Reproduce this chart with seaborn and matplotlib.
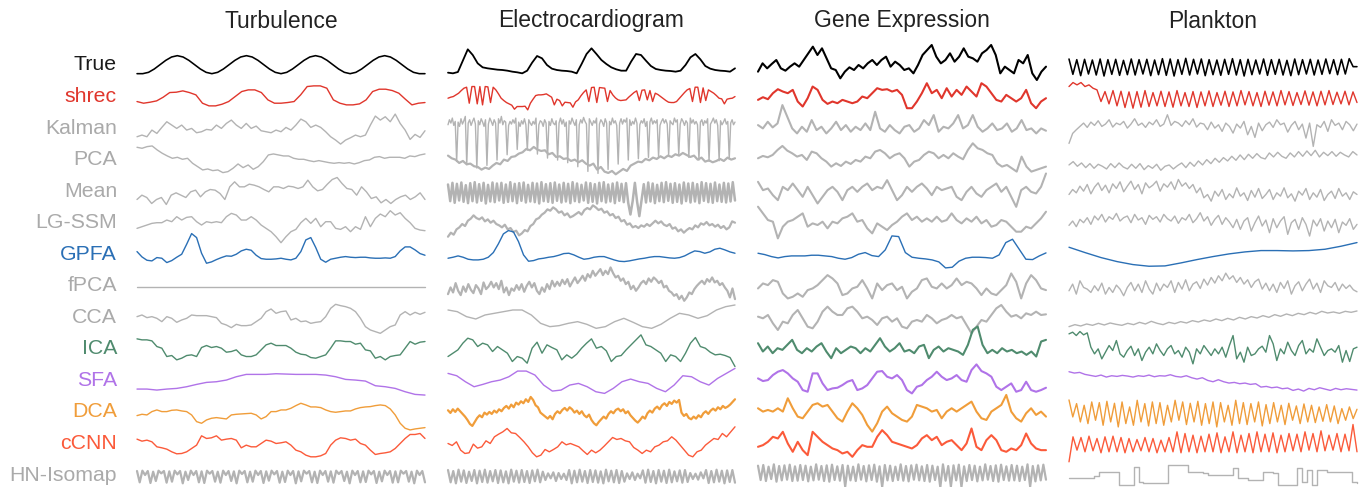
import numpy as np
import matplotlib.pyplot as plt
import seaborn as sns

# panel titles and method rows (top to bottom)
datasets = ["Turbulence", "Electrocardiogram", "Gene Expression", "Plankton"]
methods = ["True", "shrec", "Kalman", "PCA", "Mean", "LG-SSM", "GPFA", "fPCA",
           "CCA", "ICA", "SFA", "DCA", "cCNN", "HN-Isomap"]

# ---------------- Turbulence ----------------
turb_true = [-26, -26, -22, -12, 1, 14, 24, 28, 24, 14, 1, -12, -22,
             -26, -22, -12, 1, 14, 24, 28, 24, 14, 1, -12, -22,
             -26, -22, -12, 1, 14, 24, 28, 24, 14, 1, -12, -22,
             -26, -22, -12, 1, 14, 24, 28, 24, 14, 1, -12, -22, -26, -26]
turb_shrec = [-15, -20, -17, -13, -2, 12, 13, 17, 12, 5, -20, -28, -28, -23, -15, 0, 15, 20, 20,
              12, -10, -20, -20, -18, -15, 5, 30, 32, 32, 25, -10, -20, -25, -25, -22, -10, 15,
              22, 22, 18, 10, -8, -25, -20, -18]
turb_kalman = [-26, -21, -26, -6, -16, 2, 19, 9, -1, 9, -6, -1, -14, -11, -4, -6, 9, -1, 14, 24,
               9, -1, 14, -1, 6, -8, -11, -14, -6, -11, 2, -6, 9, 27, 19, 2, 9, 2, -11, -26, -36,
               -48, -36, -29, -21, -26, -21, 9, 36, 24, 34, 19, 42, 14, -6, -34, -19, -28, -8]
turb_pca = [37, 34, 39, 41, 29, 19, 11, 4, 7, 1, 4, -11, -21, -31, -28, -33, -31, -39, -36, -26,
            -13, -24, -16, -29, -21, -6, 14, 17, 14, 11, 11, 4, 1, 1, -3, -6, -3, -6, -9, -11, -9,
            -11, -9, -13, -9, -3, -1, 7, 9, 4, 7, 7, 7, 4, 11, 9, 14, 17]
turb_mean = [-25, -12, -19, -37, -25, -19, -40, -12, -5, -12, -19, -2, 3, -17, -2, 5, 3, -7, -25,
             13, 28, 13, 13, 21, 18, 13, 5, -2, 13, 13, 8, 15, 13, 8, 13, 33, 13, 1, 5, 21, 35,
             41, 23, 8, 5, -12, 13, -2, -22, -17, -35, -25, -37, -25, -17, -12, -25, -17, -5, -25]
turb_lgssm = [-17, -12, -7, -2, 0, 0, 8, 3, 18, 8, 16, 18, 3, -7, 3, 0, 3, 0, 18, 28, 23, 8, 8,
              18, 8, -7, -17, -27, -42, -60, -42, -27, -20, 0, 13, -2, 13, -12, 3, 3, -17, -20,
              -12, -27, -12, -20, 18, -12, 13, 26, 18, 36, 23, 30, 13, 0, -17, -22, -24]
turb_gpfa = [8, -8, -18, -20, -10, -12, -25, -19, -9, 0, 30, 62, 50, 3, -27, -23, -16, -10, -5,
             -6, 0, 10, 15, 12, -3, -13, -15, -15, -14, -12, -15, -17, -12, 8, 43, 50, 20, -15,
             -24, -15, -12, -9, -7, -9, -10, -9, -9, -11, -12, -12, -11, -12, -7, 10, 22, 22, 13,
             2, -3]
turb_fpca = [-5, -5]
turb_cca = [2, 7, -1, 2, -3, -13, 2, -3, -15, -8, -3, 7, 5, 5, 5, 2, -1, -18, -23, -31, -21, -25,
            -25, -23, -13, -3, 17, 25, 12, 17, 19, -8, -3, -13, -11, -18, -15, -13, 2, 27, 39, 35,
            32, 27, 17, -3, -28, -38, -43, -48, -38, -28, -23, 7, 17, 7, 15, 9, 15]
turb_ica = [30, 27, 27, 24, 7, 2, -23, -20, -33, -28, -20, -18, -23, 4, 10, 4, 7, 2, -10, -8, -3,
            -18, -23, -23, -18, -3, 12, 17, 10, 10, 10, 2, -10, -16, -18, -26, -28, -23, -18, 2,
            24, 24, 22, 22, 14, 17, -3, -6, -28, -23, -33, -23, -20, -18, 2, 22, 14, 20, 22]
turb_sfa = [-26, -26, -29, -26, -24, -19, -12, -6, -4, 1, 11, 18, 18, 18, 20, 19, 18, 18, 18, 16,
            11, 3, 1, -2, -16, -19, -24, -34, -42, -44]
turb_dca = [-11, -7, -9, 1, 6, 1, 1, 5, 6, 3, 1, -9, -29, -34, -24, -19, -17, -19, -21, -9, -7, -6,
            -5, -4, -9, -21, -14, 1, 1, 6, 6, 11, 19, 26, 21, 15, 15, 13, 6, 1, -1, 1, 3, 3, 9, 13,
            15, 16, 19, 21, 19, 9, -9, -34, -49, -54, -51, -49, -47]
turb_ccnn = [13, 7, 10, 5, -10, -13, -17, -25, -31, -30, -25, -15, -5, 23, 15, 17, 23, 10, 13, 15,
             10, -13, -5, -10, -10, 0, 10, 7, 0, 2, 5, -5, -20, -25, -35, -40, -40, -37, -30, -5,
             10, 17, 15, 10, 13, 0, -5, -20, -33, -30, -28, -25, -15, 0, 15, 27, 27, 30, 15]
turb_hn = [12, -22, 13, 0, 12, -24, 10, -18, 13, 5, 12, -23, 11, -20, 13, 2, 12, -25, 10, -15, 13,
           0, 12, -22, 11, -24, 13, 4, 12, -20, 10, -23, 13, 0, 12, -18, 11, -25, 13, 3, 12, -22,
           10, -20, 13, 0, 12, -24, 11, -17, 13, 2, 12, -23, 10, -21, 13, 0, 12, -25, 11, -19, 13,
           4, 12, -22, 10, -24, 13, 0, 12, -20, 11, -23, 13, 3, 12, -18, 10, -25, 13, 0, 12, -22,
           11, -21, 13, 2, 12, -24, 10, -19, 13, 0, 12, -23, 11, -22, 13, 4, 12, -20, 10, -25, 13,
           0, 12, -22]

# ---------------- Electrocardiogram ----------------
ecg_true = [-23, -25, -21, 13, 47, 30, 5, -7, -10, -12, -14, -15, -17, -20, -22, -25, -17, 7, 27,
            20, 0, -11, -15, -17, -18, -20, -25, 3, 33, 50, 33, 15, 3, -7, -13, -17, -17, 10, 33,
            30, 13, -3, -12, -15, -17, -18, -20, -17, 0, 23, 33, 17, -3, -11, -15, -17, -18, -20,
            -10]
ecg_shrec = [-5, -2, 0, 5, 10, 18, 25, 28, -20, 30, 30, -22, 30, -25, 30, 29, -18, 28, 20, 8, -5,
             -12, -18, -22, -26, -38, -30, -30, -30, -29, -40, -20, -8, 3, 5, 5, 6, 8, 3, -2, -25,
             -8, -12, -28, -17, -18, -19, -32, -16, -10, 2, 12, 20, -15, 27, 28, -18, 27, 26, 25,
             -15, 18, 5, -4, -10, -12, -11, -10, -2, 5, 12, 17, -12, 19, 20, -10, 18, -15, 10, 6,
             0, -6, -12, -17, -18, -18, -15, -6, 3, 12, 20, 24, -15, 28, 28, -18, 26, -12, 20, 15,
             10, 3, -5, -7, -22, -8, -6, -5, 0]
ecg_kalman = [10, 25, 15, 30, 8, 20, -100, 18, 5, 28, 12, 22, 35, -110, 15, 25, 8, 20, 30, 12,
              -120, 22, 10, 28, 18, 5, 25, -112, 12, 30, 20, 8, 25, 15, -96, 28, 15, 35, 10, 22,
              18, -80, 8, 20, 12, 25, 15, 30, -64, 18, 5, 22, 12, 28, 10, -66, 25, 15, 8, 20, 12,
              30, -78, 10, 22, 18, 5, 25, 15, -90, 20, 8, 28, 15, 10, 22, -96, 15, 30, 12, 25, 5,
              18, -104, 22, 12, 30, 18, 8, 25, -116, 10, 25, 15, 32, 20, 12, -130, 28, 18, 8, 22,
              15, 30, -136, 12, 25, 18, 5, 28, 15, -124, 20, 10, 30, 15, 22, 8, -108, 15, 28, 12,
              25, 18, 30, -96, 25, 8, 20, 12, 30, 15, -92, 10, 22, 15, 28, 5, 20, -88, 18, 30, 12,
              22, 15, 25, -86, 8, 20, 28, 15, 25, 12, -80, 22, 15, 10, 30, 18, 25, -80, 12, 28, 20,
              8, 22, 15, -88, 30, 15, 25, 12, 20, 10, -96, 18, 25, 8, 22, 15, 28, -100, 12, 20, 30,
              15, 25, 8, -98, 22, 10, 18, 28, 12, 20, -93, 15, 25, 10, 18]
ecg_pca = [12, 4, 0, -10, -4, -14, -12, -20, -22, -30, -24, -28, -18, -10, -14, 0, -4, 8, 10, 18,
           22, 32, 28, 38, 30, 26, 28, 16, 20, 8, 10, 2, 4, -4, 0, -8, -2, -12, -18, -12, -30, -22,
           -36, -40, -34, -44, -36, -28, -34, -18, -12, -6, -8, 2, -2, 6, 2, 10, 4, 12, 8, 16, 12,
           20, 14, 8, 12, 0, 6, -6, -2, -8, -4, 2, -4, 6, 0, 4]
ecg_mean = [20, -30, 25, -35, 22, -28, 26, -32, 18, -36, 24, -30, 27, -34, 21, -29, 25, -37, 19,
            -31, 26, -33, 23, -28, 25, -35, 20, -32, 27, -30, 22, -36, 24, -29, 26, -34, 19, -31,
            25, -33, 23, -37, 27, -30, 21, -32, 24, -35, 26, -29, 20, -34, 25, -31, 22, -36, 27,
            -30, 23, -33, 19, -28, 26, -35, 24, -32, 21, -37, 25, -30, 27, -34, 20, -31, 23, -36,
            26, -29, 22, -33, 24, -35, -70, -30, 25, -32, -75, -28, 21, -34, 26, -31, 23, -36, 19,
            -30, 25, -33, 27, -29, 22, -35, 24, -32, 20, -37, 26, -30, 23, -34, 25, -31, 21, -36,
            27, -29, 24, -33, 22, -35, 26, -30, 20, -32, 25, -34, 23, -31, 27, -28]
ecg_lgssm = [-42, -30, -36, -20, -14, -4, -10, 6, 12, 22, 14, 10, 16, 4, 10, 0, 6, -4, -8, -14, -6,
             -20, -16, -28, -24, -38, -32, -22, -26, -10, -4, 10, 14, 24, 30, 40, 36, 46, 40, 30,
             34, 22, 28, 16, 20, 26, 32, 24, 38, 44, 40, 52, 46, 38, 42, 30, 34, 22, 26, 14, 18, 4,
             8, -6, -2, -14, -10, -16, -8, -12, -4, -10, -2, 6, -2, 4, -6, -10, -4, -18, -14, -26,
             -20, -30, -22, -16, -20, -8, -14, -2, -6, 2, -8, -4, -12, -6, -16, -10, -20, -14, 4, 0]
ecg_gpfa = [-12, -9, -5, -9, -15, -17, -17, -15, -9, 5, 31, 61, 71, 67, 38, -2, -21, -19, -14, -12,
            -9, -7, -3, 2, 3, -2, -9, -15, -13, -9, -7, -7, -12, -17, -21, -22, -20, -17, -14, -12,
            -9, -7, -7, -9, -11, -12, -10, -5, 3, 10, 8, 3, 7, 15, 18, 13, 7, 3]
ecg_fpca = [-25, -5, -20, 8, -15, -28, -2, -18, 5, -12, -22, 2, -8, -25, 10, -10, -2, 12, -5, 8,
            -10, 15, -20, -5, -28, -8, -15, 2, -12, 5, -18, 0, 12, -5, 8, -15, -25, -5, -18, 5, -10,
            15, -2, 12, 0, 18, 5, 20, -2, 12, 25, 8, 18, 30, 15, 35, 25, 45, 30, 40, 50, 32, 45, 35,
            55, 38, 25, 30, 15, 22, 5, 12, -10, 0, -15, -5, 8, 15, 5, 22, 12, 25, 18, 8, 15, -5, 0,
            -15, -20, -30, -25, -40, -30, -45, -35, -20, -25, -10, 0, 8, 15, 5, 20, 12, 25, 10, 15,
            2, 8, -5, -15, -35, -8, -40]
ecg_cca = [22, 17, 2, -5, 7, 12, 17, 22, 22, 7, -18, -28, -25, -18, -13, -21, -33, -28, -13, -3,
           -15, -28, -33, -21, -3, 12, 7, -3, 5, 22, 32, 37]
ecg_ica = [-23, -13, -3, 17, 32, 27, 7, 17, 12, -8, 7, -3, -13, -38, -23, -28, -43, 2, 20, -13, 12,
           4, -3, -33, -18, -28, -16, 2, 17, 30, 2, 7, -6, -38, -23, -20, -3, 12, 27, 42, 12, 7, -3,
           -13, -38, -18, -23, -38, -13, 17, 34, 7, 2, -10, -18, -16, -20, -26, -53]
ecg_sfa = [21, 14, -4, -19, -12, -4, 1, 11, 28, 28, 16, -14, -32, -29, -14, -9, -19, -34, -39, -24,
           -4, 4, -4, -9, -24, -34, -14, 14, 11, -4, -14, 6, 21, 36]
ecg_dca = [5, -3, 8, 0, 10, 2, -6, -14, -24, -36, -42, -30, -18, -10, -16, -2, -8, 0, -6, 4, -2, 8,
           2, 12, 18, 10, 22, 14, 28, 22, 32, 26, 38, 30, 45, 36, 20, 14, -2, -8, -14, -20, -12,
           -22, -6, 2, -4, 6, 12, 4, 14, 8, -2, 4, -6, 2, -10, -16, -8, -24, -34, -40, -30, -22,
           -14, -20, -6, 2, -4, 6, 10, 2, 8, -4, 2, -10, -18, -26, -32, -24, -14, -20, -4, 4, -2,
           10, 16, 8, 20, 26, 18, 30, 24, 34, 28, 36, -2, -12, -6, -18, -22, -14, -20, -10, -16,
           -4, 2, -6, 4, 10, 4, 14, 8, 18, 12, 16, 22, 30, 38]
ecg_ccnn = [0, -6, 5, -20, -30, -28, -2, -14, -10, 8, 0, 20, 28, 35, 45, 32, 30, 18, 5, -10, -28,
            -40, -35, -18, -25, -18, -10, 5, -4, 0, -5, -10, -22, -33, -20, -28, -20, -8, 5, 18,
            12, 15, 8, 5, -12, -20, -30, -20, -25, -10, -5, 5, 8, 20, 10, -5, -20, -35, -40, -25,
            -20, -5, 5, 15, 12, 30, 20, 35, 50]
ecg_hn = [15, -22, 12, -25, 16, -20, 14, -24, 10, -18, 15, -25, 13, -21, 16, -23, 12, -19, 15, -24,
          14, -22, 11, -25, 16, -20, 13, -23, 15, -21, 12, -24, 14, -19, 16, -22, 10, -15, 5, -10,
          8, -18, 6, -12, 4, -15, 15, -25, 13, -22, 16, -20, 12, -24, 15, -21, 14, -23, 11, -25,
          16, -19, 13, -22, 15, -24, 12, -20, 5, -12, 8, -15, 4, -10, 14, -23, 16, -21, 12, -25,
          15, -20, 13, -24, 16, -22, 11, -19, 14, -23, 15, -21, 6, -12, 4, -14, 8, -10, 15, -24,
          12, -22, 16, -20, 13, -25, 14, -21, 15, -23]

# ---------------- Gene Expression ----------------
gene_true = [-20, 5, -10, 3, 15, -10, -17, -5, 5, -5, 15, 35, 55, 30, 50, 20, -10, -15, -40, -20,
             -7, -15, 0, -10, 5, 15, 0, 15, 25, -5, 10, 0, -15, -10, -25, 0, 30, 45, 60, 25, 5, 15,
             35, 10, 25, 50, 25, 20, 10, 35, 45, 60, 30, -25, -5, -15, -25, 15, 5, 30, -25, -45,
             -20, -5]
gene_shrec = [-10, -2, -8, 10, 22, 15, 10, 20, -15, -30, -5, 30, 20, -10, -22, -15, -20, -10, -15,
              -20, -15, 0, -5, 10, 25, 20, 22, 15, 20, 5, -35, -35, -15, 10, 40, 10, 20, -5, 25, 0,
              20, 5, 30, 15, 0, 40, 30, 10, -10, -15, 5, -5, -15, -5, 20, -20, -35, -15, -5]
gene_kalman = [9, -1, 19, 2, 14, 69, 34, -1, -16, 4, -11, 24, -6, 4, -16, -1, 19, -6, 9, -11, 4,
               -6, 14, -6, 49, -1, -11, 9, -6, -16, 4, 9, -11, -1, 24, 9, 39, -11, 4, -1, 14, 39,
               -1, 9, 39, 4, -11, -1, 14, -6, -1, 14, -11, -1, 24, -6, -1, -16, -1, -8]
gene_pca = [4, 11, 7, 14, 29, 41, 27, 19, 9, 14, -1, 24, 19, 4, -6, -21, -11, -19, -6, -13, -1, -6,
            9, 4, 24, 29, 19, 4, 14, 19, 4, -21, -6, -1, 14, 24, 19, 4, 14, 4, 19, 9, 1, 29, 49, 34,
            29, 19, 14, -11, -21, -16, -26, -36, 9, -21, -36, -31, -26, -21]
gene_mean = [28, 3, 8, -12, -27, 13, 3, 23, 3, -17, 13, -12, -37, -17, 3, 13, -2, -27, 3, 13, -2,
             13, 23, 3, 13, 8, 33, 3, -27, -12, 13, -2, 13, 23, 8, -12, 13, 3, 8, 13, -17, -27, -2,
             13, -7, -17, 3, 13, 23, -2, 13, -17, -47, 3, 13, -2, -7, 13, 53]
gene_lgssm = [48, 28, 8, 3, -47, -12, 3, 8, 18, 28, -12, -2, -7, 3, -17, 3, -2, 13, 18, 28, 3, 8,
              -17, -32, -2, -12, -22, -7, 3, 18, 28, 8, 18, 3, 13, 3, 18, 3, 8, 28, 8, -2, 13, 3,
              18, -2, 8, -12, -7, 8, 3, -12, -27, -27, -12, -17, -2, 13, 33]
gene_gpfa = [3, -1, -7, -11, -7, -5, -5, -5, -3, -3, -5, -7, -12, -15, -10, 0, 5, -4, -7, 13, 55,
             53, 5, -9, -12, -14, -17, -23, -41, -39, -21, -12, -9, -9, -10, -12, -2, 35, 45, 15,
             -15, -16, -5, 4]
gene_fpca = [-8, 7, 2, 17, 12, -23, -38, -33, -23, -33, -13, -8, 2, 17, 32, 22, 7, -28, -23, -8, -3,
             17, -8, -38, 7, -13, 2, 7, -13, -3, -38, -18, -8, 17, 22, -3, -8, 7, -8, 2, 22, 2, 12,
             7, -8, -28, -8, -23, -28, -13, 2, 37, 12, -38, 7, 32, 17, -8, -13]
gene_cca = [2, -3, 7, -18, -38, -13, -18, 7, 22, -3, -28, -33, -13, 17, 32, 17, 7, 7, 27, 32, 17,
            -3, 2, -8, -23, -3, 2, -13, -3, -28, -33, -13, -8, -13, 7, -3, -18, -8, -3, 7, -3, 2,
            -23, -48, -28, -8, -13, 7, 27, 37, 17, 2, 7, -3, 12, 7, 17, 7, 9]
gene_ica = [17, -8, 7, -13, 2, -3, 12, 27, -3, -13, 2, -8, 7, 17, -8, -28, 2, -13, -3, 7, 2, -13,
            2, -8, 12, 32, 7, -8, 2, 17, -8, -3, -13, 7, 12, -28, -3, 7, -8, 2, -3, -8, -18, 12, 57,
            67, 12, -13, -3, -13, 2, -8, -3, -13, -8, -18, -8, -23, 22, 27]
gene_sfa = [6, -2, 1, 16, 26, 31, 21, 6, -4, -29, -34, 21, 21, -9, -29, -24, -22, -14, -4, 1, -29,
            -24, -14, 6, 26, 28, 11, 6, 16, 1, -29, -39, -19, -14, 1, 11, 26, 11, 1, 6, 16, 1, -4,
            31, 48, 28, 21, 11, -19, -29, -19, -9, -34, -29, -4, -29, -34, -29, -22]
gene_dca = [11, 1, 6, 1, 11, 1, 41, 11, -14, -19, 1, 21, 26, 16, 21, 1, -19, -29, 1, 26, 11, -9,
            -39, -59, -34, 1, 16, -4, -14, -24, -29, -14, 21, 16, 11, 1, 6, -19, 1, 11, 1, 11, 21,
            31, 1, -19, -24, 1, 11, 21, 51, 1, -19, -29, -4, 11, -9, 1, -14]
gene_ccnn = [-10, -5, 5, 20, 15, 35, 0, -25, 5, -20, -35, 35, 20, 5, -5, -15, -20, -30, -25, -40,
             -20, -5, -10, -10, 20, 40, 25, 5, 0, -5, -10, -15, -5, 15, 25, 10, 20, -5, 5, 10, -5,
             -20, 0, 45, -10, -20, 10, 25, 10, -20, -25, -15, -20, -5, 30, 0, -15, -20, -20]
gene_hn = [28, -15, 30, -18, 25, -12, 32, -20, 27, -16, 29, -14, 31, -18, 26, -17, 30, -15, 28, -19,
           25, -16, 32, -14, 27, -18, 29, -20, 31, -15, 26, -17, 30, -35, 28, -16, 25, -18, 32, -14,
           27, -19, 29, -15, 31, -20, 26, -36, 30, -16, 28, -18, 25, -15, 32, -17, 27, -19, 29, -14,
           31, -16, 26, -18, 30, -20, 28, -15, 25, -37, 32, -17, 27, -35, 29, -16, 31, -36, 26, -18,
           30, -15, 28, -19, 25, -16, 32, -14, 27, -18, 29, -20, 31, -15, 26, -17, 30, -16, 28, -18,
           25, -15, 32, -35, 27, -19, 29, -16, 31, -14]

# ---------------- Plankton ----------------
plank_true = [18, -28, 16, -32, 17, -27, 15, -30, 18, -33, 16, -28, 17, -31, 14, -29, 18, -30, 16,
              -27, 17, -32, 15, -29, 19, -31, 18, -33, 16, -28, 20, -30, 17, -27, 18, -32, 16, -29,
              15, -31, 17, -28, 19, -30, 16, -33, 17, -29, 15, -27, 18, -31, 16, -28, 17, -30, 14,
              -32, 18, -29, 16, -27, 17, -30, 15, -28, 18, -26, 16, -29, 17, -27, 19, -5, -5]
plank_shrec = [30, 42, 35, 42, 30, 35, 25, 20, -15, 15, -22, 18, -28, 16, -33, 14, -35, 15, -32, 18,
               -30, 12, -28, 16, -30, 14, -32, 18, -28, 12, -30, 15, -33, 14, -28, 17, -30, 12, -26,
               16, -30, 14, -28, 18, -25, 15, -28, 12, -30, 16, -26, 14, -28, 18, -25, 15, -27, 12,
               -24, 17, -26, 14, -28, 16, -25, 18, -24, 13, -22, 16, -25, 14, -18]
plank_kalman = [-46, -16, -5, 5, 15, 2, 18, 8, 22, 5, 12, 25, 3, 15, 10, 20, 0, 12, 28, 8, 15, 2,
                18, 10, 25, 5, 12, 40, 8, 20, 15, 5, 22, 10, 28, 3, 15, 12, -5, 18, 0, 10, -10, 15,
                5, -15, 12, 0, 20, -20, 5, -28, 15, -8, 10, 18, 2, 25, 10, 15, -12, 8, 20, -5, 12,
                -30, 15, -55, 10, 2, 20, -10, 25, 8, 15, -5, 20, 10, -8, 12]
plank_pca = [-16, -6, -20, -10, -24, -12, -26, -14, -20, -28, -12, -24, -10, -22, -28, -14, -26,
             -12, -30, -18, -26, -14, -32, -20, -16, -28, -18, -10, -24, -8, -20, -4, -16, 0, -12,
             4, -8, 6, -4, 10, -2, 14, 0, 16, 4, 18, 6, 2, 20, 8, 22, 10, 4, 20, 8, 24, 10, 26, 12,
             28, 8, 22, 12, 24, 10, 22, 14, 8, 24, 14]
plank_mean = [-10, 5, -5, 15, 0, 20, -8, 12, 25, 2, 18, -5, 22, 8, 28, -2, 15, 30, 5, 20, -8, 25,
              10, 18, 30, 0, 22, 12, 28, 5, 35, 15, 25, 8, 20, -5, 10, -20, -10, -30, 0, -15, 5,
              -25, -8, -20, 10, -15, -5, -28, 2, -18, 8, -22, -10, 5, -25, -5, -15, 10, -20, -8,
              -30, 0, -12, 8, -25, -5, -18, 5, -28, -10, 0, -22, 8, -15, -5, -25, -2, -10]
plank_lgssm = [-8, 5, -12, 10, 0, 15, -5, 20, 8, 25, 2, 18, 10, 28, 5, 15, 20, 0, 25, 8, 15, -5,
               22, 10, 18, 2, 25, 12, 5, 20, -2, 15, 8, 25, 0, 12, 30, 5, 18, -8, 10, 22, -5, 15, 2,
               -15, 10, -20, 5, 15, -25, 0, 20, -10, 8, -30, 12, -15, 5, 18, -35, 0, 10, -20, 15,
               -5, -40, 8, -10, 12, -25, 5, -15, 10, -30, 2, -8, 12, -20, -5]
plank_gpfa = [21, 5, -10, -22, -31, -36, -35, -26, -16, -7, 1, 7, 11, 11, 10, 11, 15, 24, 35]
plank_fpca = [-15, 5, -25, 15, -5, -10, -20, 0, -15, 8, -25, -5, -20, 2, -10, -30, -5, 10, -15, 5,
              -20, 15, -10, -25, 8, -15, 5, -5, 15, -20, 10, -10, 18, -15, 5, 12, -8, 20, 2, 25, 8,
              30, 15, 38, 20, 30, 10, 25, 5, 18, -5, 12, 20, -10, 8, -15, 5, -20, 10, -8, 15, -25,
              0, 12, -15, 5, 20, -10, 8, -20, 15, 0, -5, 10, -15, 5, -8, 2, -12, -18]
plank_cca = [-28, -22, -26, -20, -24, -18, -23, -17, -21, -24, -18, -22, -15, -20, -12, -18, -22,
             -15, -19, -13, -17, -10, -14, -8, -12, -5, -10, -3, -8, 0, -5, 2, -2, 5, 0, 8, 3, 10,
             5, 12, 8, 15, 10, 18, 13, 16, 12, 18, 15, 19]
plank_ica = [45, 50, 40, 52, 42, 48, 5, -15, 0, -30, -10, 10, -5, 25, -15, -25, -5, 8, -20, 0, -35,
             -10, 5, -15, 15, -5, -20, 0, 10, -15, -5, -25, 5, -10, -45, 0, -15, 10, -5, -20, 0,
             -15, 5, -25, 10, 40, -30, -10, -40, 5, -20, -15, 0, 8, -10, 40, 15, -35, 0, -15, 20,
             -5, -20, 10, 25, -15, 0, -10, 30, 5, -20, -5, 0, -10, 10, -40, -5, -38, 0, 5]
plank_sfa = [26, 22, 24, 18, 15, 12, 16, 10, 14, 12, 15, 13, 10, 14, 12, 16, 11, 14, 13, 17, 12, 10,
             14, 8, 4, 8, 0, -4, 2, -4, -8, -6, -10, -8, -12, -10, -20, -18, -22, -20, -25, -23,
             -30, -26, -32, -24, -28, -22, -26, -30, -24, -28, -25, -27, -29]
plank_dca = [36, -15, 25, -30, 20, -35, 30, -25, 28, -40, 32, -30, 26, -45, 30, -35, 15, -40, 35,
             -30, 25, -42, 30, -35, 28, -40, 20, -30, 35, -25, 30, -38, 26, -30, 32, -40, 25, -35,
             30, -45, 28, -30, 20, -40, 35, -35, 28, -38, 25, -30, 30, -42, 22, -35, 28, -30, 20,
             -38, 26, -25, 18, -35, 24, -30, 20, -32, 15, -28, 22, -30, 18, -35, 10, -25, 15, -20, 8]
plank_ccnn = [-55, 20, -20, 18, -25, 22, -22, 15, -28, 20, -25, 22, -25, 18, -28, 15, -25, 12, -22,
              18, -25, 15, -28, 10, -25, 18, -25, 35, -28, 30, -25, 25, -28, 22, -25, 28, -25, 32,
              -28, 20, -25, 35, -28, 25, -25, 30, -28, 35, -25, 28, -25, 32, -28, 25, -25, 30, -22,
              28, -25, 35, -20, 30, -25, 38, -22, 25, -20, 30, -25, 28, -22, 57, -25]
plank_hn = [-10, -10, -10, -10, -10, -2, 10, 8, 10, 10, -30, -30, -30, 25, -20, -25, -25, -25, -25,
            -25, 30, 30, 30, 30, 10, 10, 10, 5, 0, 0, 0, 0, 0, 20, -10, -10, -15, -15, -15, 10, 10,
            5, -30, -30, -30, -30, 20, -20, 15, -30, 15, 15, 10, 10, 8, 10, 10, -20, -25]

turbulence = [turb_true, turb_shrec, turb_kalman, turb_pca, turb_mean, turb_lgssm, turb_gpfa,
              turb_fpca, turb_cca, turb_ica, turb_sfa, turb_dca, turb_ccnn, turb_hn]
ecg = [ecg_true, ecg_shrec, ecg_kalman, ecg_pca, ecg_mean, ecg_lgssm, ecg_gpfa,
       ecg_fpca, ecg_cca, ecg_ica, ecg_sfa, ecg_dca, ecg_ccnn, ecg_hn]
gene = [gene_true, gene_shrec, gene_kalman, gene_pca, gene_mean, gene_lgssm, gene_gpfa,
        gene_fpca, gene_cca, gene_ica, gene_sfa, gene_dca, gene_ccnn, gene_hn]
plankton = [plank_true, plank_shrec, plank_kalman, plank_pca, plank_mean, plank_lgssm, plank_gpfa,
            plank_fpca, plank_cca, plank_ica, plank_sfa, plank_dca, plank_ccnn, plank_hn]
all_series = [turbulence, ecg, gene, plankton]

gray = "#b3b3b3"
line_colors = {"True": "#000000", "shrec": "#e0362c", "GPFA": "#2a6fb5", "ICA": "#4f8b6e",
               "SFA": "#b073e8", "DCA": "#f09d3a", "cCNN": "#fb5a3a"}
label_colors = {"True": "#1a1a1a", "shrec": "#e0362c", "GPFA": "#2a6fb5", "ICA": "#4f8b6e",
                "SFA": "#b073e8", "DCA": "#f09d3a", "cCNN": "#fb5a3a"}

# noisy rows are drawn a little heavier so they read as fuzzy bands
heavy = {("Electrocardiogram", "Mean"): 1.8, ("Electrocardiogram", "fPCA"): 1.6,
         ("Electrocardiogram", "LG-SSM"): 1.6, ("Electrocardiogram", "DCA"): 1.6,
         ("Electrocardiogram", "PCA"): 1.6, ("Electrocardiogram", "True"): 1.3}

sns.set_theme(style="white")
plt.rcParams["font.family"] = ["Liberation Sans", "DejaVu Sans"]

W, H = 1369, 487
fig = plt.figure(figsize=(W / 100, H / 100), dpi=100)

panel_px = [(137, 425), (448, 735), (758, 1046), (1069, 1357)]
row0 = 65          # first row centre, pixels from top
row_step = 31.54   # pixels between rows
unit = 3.0         # data units per pixel

for d, name in enumerate(datasets):
    x0, x1 = panel_px[d]
    ax = fig.add_axes([x0 / W, 0, (x1 - x0) / W, 1])
    for r, vals in enumerate(all_series[d]):
        m = methods[r]
        y = np.asarray(vals, dtype=float) - r * row_step * unit
        t = np.linspace(0, 1, len(y))
        kw = {}
        if d == 3 and m == "HN-Isomap":
            kw["drawstyle"] = "steps-post"
        lw = 1.15 if m == "True" else 1.0
        if d == 2 and m != "GPFA":
            lw = 1.5
        if m == "HN-Isomap" and d < 3:
            lw = 1.6
        lw = heavy.get((name, m), lw)
        sns.lineplot(x=t, y=y, ax=ax, color=line_colors.get(m, gray), lw=lw,
                     estimator=None, sort=False, clip_on=False, **kw)
    ax.set_xlim(0, 1)
    ax.set_ylim(-(H - row0) * unit, row0 * unit)
    ax.axis("off")
    fig.text((x0 + x1) / 2 / W, 1 - 21 / H, name, ha="center", va="center",
             fontsize=16.5, color="#222222")

for r, m in enumerate(methods):
    fig.text(117 / W, 1 - (row0 + r * row_step) / H, m, ha="right", va="center",
             fontsize=15.3, color=label_colors.get(m, "#aaaaaa"))

fig.savefig("out.png", dpi=100)
